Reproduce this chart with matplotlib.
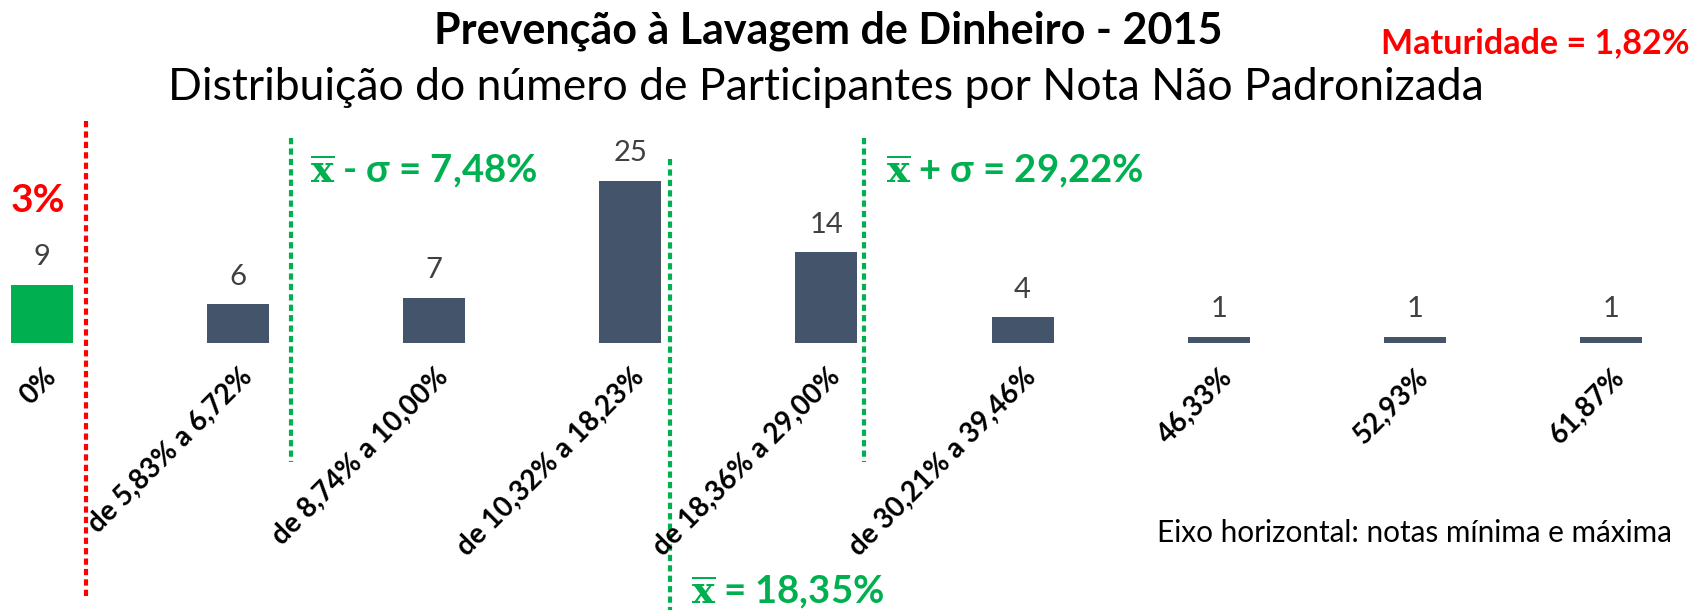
import matplotlib
matplotlib.use("Agg")
import matplotlib.pyplot as plt

# dados
faixas = ["0%", "de 5,83% a 6,72%", "de 8,74% a 10,00%", "de 10,32% a 18,23%",
          "de 18,36% a 29,00%", "de 30,21% a 39,46%", "46,33%", "52,93%", "61,87%"]
participantes = [9, 6, 7, 25, 14, 4, 1, 1, 1]
cores = ["#00B050"] + ["#44546A"] * 8

titulo = "Prevenção à Lavagem de Dinheiro - 2015"
subtitulo = "Distribuição do número de Participantes por Nota Não Padronizada"
maturidade = "Maturidade = 1,82%"
nota_eixo = "Eixo horizontal: notas mínima e máxima"

plt.rcParams["font.family"] = ["Lato", "DejaVu Sans"]
plt.rcParams["mathtext.fontset"] = "custom"
plt.rcParams["mathtext.bf"] = "DejaVu Serif:bold"
plt.rcParams["mathtext.rm"] = "DejaVu Serif"

W, H = 1694, 610
fig = plt.figure(figsize=(W / 100, H / 100), dpi=100)
# baseline of bars at y=343 px from top, 6.5 px per participant
ax = fig.add_axes([0, 267 / H, 1, 260 / H])
ax.set_xlim(-0.214, 8.424)
ax.set_ylim(0, 40)
ax.axis("off")

x = range(len(participantes))
ax.bar(x, participantes, width=0.316, color=cores)

for i, v in enumerate(participantes):
    ax.text(i, v + 2.2, str(v), ha="center", va="bottom", fontsize=21, color="#404040")

for i, lab in enumerate(faixas):
    ax.text(i + 0.05, -4.6, lab, rotation=45, ha="right", va="center",
            rotation_mode="anchor", fontsize=20, fontweight="bold", color="black")

# linhas verticais pontilhadas
ls = (0, (1.5, 1.0))
ax.plot([0.224, 0.224], [34.2, -39.5], color="#FF0000", lw=3, ls=ls, clip_on=False)
ax.plot([1.27, 1.27], [31.5, -18.3], color="#00B050", lw=3, ls=ls, clip_on=False)
ax.plot([3.20, 3.20], [28.3, -42], color="#00B050", lw=3, ls=ls, clip_on=False)
ax.plot([4.19, 4.19], [31.5, -18.3], color="#00B050", lw=3, ls=ls, clip_on=False)

verde = "#00B050"
fig.text(828 / W, 1 - 31 / H, titulo, ha="center", va="center", fontsize=31, fontweight="bold")
fig.text(826 / W, 1 - 87 / H, subtitulo, ha="center", va="center", fontsize=32)
fig.text(1689 / W, 1 - 43 / H, maturidade, ha="right", va="center", fontsize=24.5,
         fontweight="bold", color="#FF0000")
fig.text(38 / W, 1 - 201 / H, "3%", ha="center", va="center", fontsize=28,
         fontweight="bold", color="#FF0000")
fig.text(310 / W, 1 - 171 / H, r"$\overline{\mathbf{x}}$ - σ = 7,48%", ha="left", va="center",
         fontsize=27.5, fontweight="bold", color=verde)
fig.text(886 / W, 1 - 171 / H, r"$\overline{\mathbf{x}}$ + σ = 29,22%", ha="left", va="center",
         fontsize=27.5, fontweight="bold", color=verde)
fig.text(691 / W, 1 - 592 / H, r"$\overline{\mathbf{x}}$ = 18,35%", ha="left", va="center",
         fontsize=27.5, fontweight="bold", color=verde)
fig.text(1672 / W, 1 - 533 / H, nota_eixo, ha="right", va="center", fontsize=21.4)

fig.savefig("out.png", dpi=100)
